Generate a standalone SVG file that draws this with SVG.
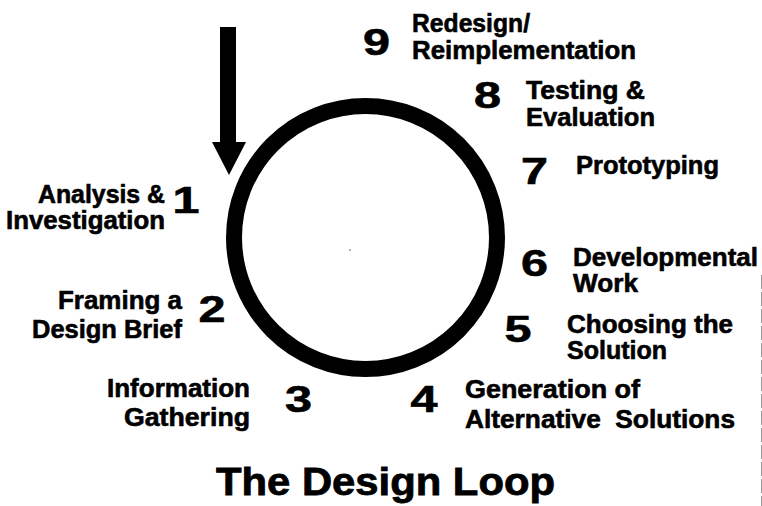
<svg xmlns="http://www.w3.org/2000/svg" width="762" height="506" viewBox="0 0 762 506">
  <style>
    .lbl { font-family: "Liberation Sans", Arial, Helvetica, sans-serif; font-weight: bold; font-size: 25px; fill: #000; stroke: #000; stroke-width: 0.6px; }
    .num { font-family: "Liberation Sans", Arial, Helvetica, sans-serif; font-weight: bold; font-size: 36px; fill: #000; stroke: #000; stroke-width: 0.6px; text-anchor: middle; }
    .title { font-family: "Liberation Sans", Arial, Helvetica, sans-serif; font-weight: bold; font-size: 38px; fill: #000; stroke: #000; stroke-width: 0.8px; }
    .r { text-anchor: end; }
  </style>
  <rect width="762" height="506" fill="#fff"/>

  <g id="loop">
    <circle cx="365.5" cy="237.5" r="131.5" fill="none" stroke="#000" stroke-width="16"/>
    <circle cx="350" cy="250" r="0.8" fill="#555"/>
  </g>

  <g id="connectors">
    <polygon points="220,27 236,27 236,142 246,142 229,175 212,142 220,142" fill="#000"/>
  </g>

  <g id="step9">
    <text class="num" x="376.5" y="55" textLength="27" lengthAdjust="spacingAndGlyphs">9</text>
    <text class="lbl" x="412" y="32" textLength="118" lengthAdjust="spacingAndGlyphs">Redesign/</text>
    <text class="lbl" x="412" y="59" textLength="224" lengthAdjust="spacingAndGlyphs">Reimplementation</text>
  </g>
  <g id="step8">
    <text class="num" x="487.5" y="108" textLength="27" lengthAdjust="spacingAndGlyphs">8</text>
    <text class="lbl" x="526" y="99" textLength="119" lengthAdjust="spacingAndGlyphs">Testing &amp;</text>
    <text class="lbl" x="526" y="126" textLength="129" lengthAdjust="spacingAndGlyphs">Evaluation</text>
  </g>
  <g id="step7">
    <text class="num" x="534.5" y="184" textLength="27" lengthAdjust="spacingAndGlyphs">7</text>
    <text class="lbl" x="576" y="174" textLength="143" lengthAdjust="spacingAndGlyphs">Prototyping</text>
  </g>
  <g id="step1">
    <text class="num" x="186" y="213" textLength="27" lengthAdjust="spacingAndGlyphs">1</text>
    <text class="lbl r" x="165" y="203" textLength="127" lengthAdjust="spacingAndGlyphs">Analysis &amp;</text>
    <text class="lbl r" x="165" y="229" textLength="159" lengthAdjust="spacingAndGlyphs">Investigation</text>
  </g>
  <g id="step6">
    <text class="num" x="534.5" y="276" textLength="27" lengthAdjust="spacingAndGlyphs">6</text>
    <text class="lbl" x="573" y="266" textLength="185" lengthAdjust="spacingAndGlyphs">Developmental</text>
    <text class="lbl" x="573" y="292" textLength="65" lengthAdjust="spacingAndGlyphs">Work</text>
  </g>
  <g id="step2">
    <text class="num" x="212" y="322" textLength="27" lengthAdjust="spacingAndGlyphs">2</text>
    <text class="lbl r" x="182" y="309" textLength="124" lengthAdjust="spacingAndGlyphs">Framing a</text>
    <text class="lbl r" x="182" y="338" textLength="150" lengthAdjust="spacingAndGlyphs">Design Brief</text>
  </g>
  <g id="step5">
    <text class="num" x="518" y="342" textLength="27" lengthAdjust="spacingAndGlyphs">5</text>
    <text class="lbl" x="567" y="333" textLength="166" lengthAdjust="spacingAndGlyphs">Choosing the</text>
    <text class="lbl" x="567" y="359" textLength="100" lengthAdjust="spacingAndGlyphs">Solution</text>
  </g>
  <g id="step3">
    <text class="num" x="298.5" y="412" textLength="27" lengthAdjust="spacingAndGlyphs">3</text>
    <text class="lbl r" x="250" y="397" textLength="143" lengthAdjust="spacingAndGlyphs">Information</text>
    <text class="lbl r" x="250" y="426" textLength="126" lengthAdjust="spacingAndGlyphs">Gathering</text>
  </g>
  <g id="step4">
    <text class="num" x="424" y="412" textLength="27" lengthAdjust="spacingAndGlyphs">4</text>
    <text class="lbl" x="465" y="398" textLength="175" lengthAdjust="spacingAndGlyphs">Generation of</text>
    <text class="lbl" x="465" y="428" textLength="270" lengthAdjust="spacingAndGlyphs" xml:space="preserve">Alternative  Solutions</text>
  </g>

  <g id="title">
    <text class="title" x="216" y="495" textLength="339" lengthAdjust="spacingAndGlyphs">The Design Loop</text>
  </g>

  <line x1="761.5" y1="275" x2="761.5" y2="506" stroke="#999" stroke-width="1" stroke-dasharray="14,3"/>
</svg>
